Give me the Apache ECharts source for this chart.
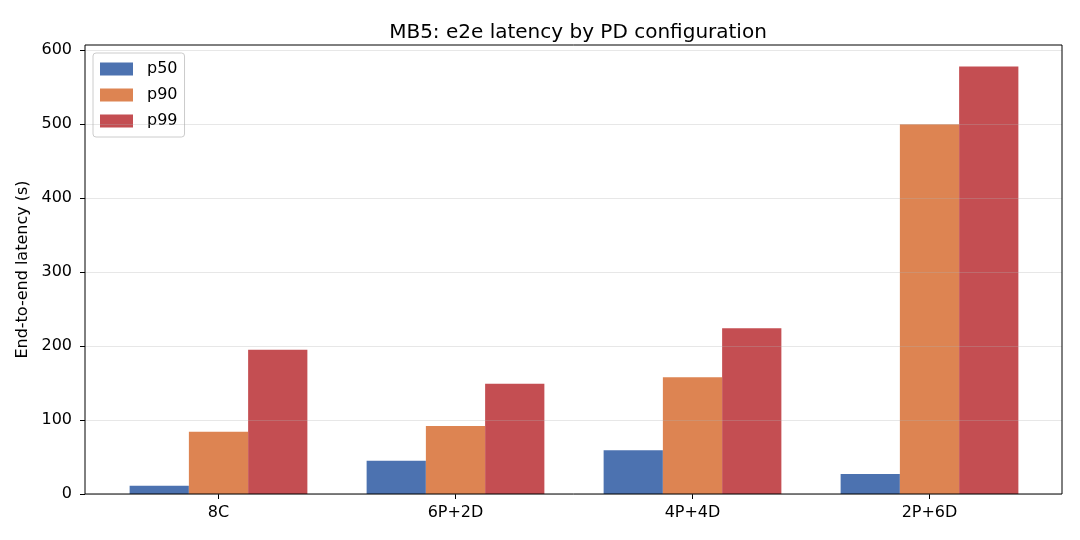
<!DOCTYPE html>
<html>
<head>
<meta charset="utf-8">
<script src="https://cdn.jsdelivr.net/npm/echarts@6/dist/echarts.min.js"></script>
<style>
  html, body { margin: 0; padding: 0; background: #fff; }
  #charts { width: 1080px; height: 540px; }
</style>
</head>
<body>
<div id="charts"></div>
<script>
var categories = ['8C', '6P+2D', '4P+4D', '2P+6D'];
var p50Data = [11, 45, 59, 27];
var p90Data = [84, 92, 158, 500];
var p99Data = [195, 149, 224, 578];
var yTicks = [0, 100, 200, 300, 400, 500, 600];
var yMax = 607;

var font = 'DejaVu Sans';
var myChart = echarts.init(document.getElementById('charts'));

var gridLine = 'rgba(176,176,176,0.3)';

// grid 0 = frame + y axis, grid 1 = bars (category bands narrower than frame, like matplotlib)
var option = {
    animation: false,
    backgroundColor: '#fff',
    title: {
        text: 'MB5: e2e latency by PD configuration',
        left: 573,
        textAlign: 'center',
        top: 18,
        textStyle: { fontFamily: font, fontSize: 20, fontWeight: 'normal', color: '#000' }
    },
    legend: {
        data: ['p50', 'p90', 'p99'],
        orient: 'vertical',
        left: 93,
        top: 53,
        icon: 'rect',
        itemWidth: 33,
        itemHeight: 13,
        itemGap: 10,
        padding: [8, 7, 8, 7],
        backgroundColor: 'rgba(255,255,255,0.8)',
        borderColor: '#cccccc',
        borderWidth: 1,
        borderRadius: 3,
        textStyle: { fontFamily: font, fontSize: 16, color: '#000', padding: [0, 0, 0, 9] }
    },
    grid: [
        { left: 85, right: 18, top: 45, bottom: 46, show: true, borderColor: '#000', borderWidth: 1, backgroundColor: 'transparent', z: 6 },
        { left: 100, right: 32, top: 45, bottom: 46 }
    ],
    xAxis: [
        { type: 'value', gridIndex: 0, show: false, min: 0, max: 1 },
        {
            type: 'category',
            gridIndex: 1,
            data: categories,
            axisLine: { show: false },
            axisTick: { show: true, alignWithLabel: true, length: 5, lineStyle: { color: '#000' } },
            axisLabel: { margin: 11, fontFamily: font, fontSize: 16, color: '#000' },
            splitLine: { show: false }
        }
    ],
    yAxis: [
        {
            type: 'value',
            gridIndex: 0,
            min: 0,
            max: yMax,
            interval: 100,
            z: 5,
            name: 'End-to-end latency (s)',
            nameLocation: 'middle',
            nameGap: 53,
            nameTextStyle: { fontFamily: font, fontSize: 16, color: '#000' },
            axisLine: { show: false },
            axisTick: { show: true, length: 5, customValues: yTicks, lineStyle: { color: '#000' } },
            axisLabel: {
                margin: 13,
                fontFamily: font,
                fontSize: 16,
                color: '#000',
                customValues: yTicks,
                formatter: function(v) { return v % 100 === 0 ? String(v) : ''; }
            },
            splitLine: { show: true, lineStyle: { color: gridLine, width: 1 } }
        },
        { type: 'value', gridIndex: 1, min: 0, max: yMax, show: false, splitLine: { show: false } }
    ],
    series: [
        { name: 'p50', type: 'bar', xAxisIndex: 1, yAxisIndex: 1, data: p50Data, barWidth: '25%', barGap: '0%', itemStyle: { color: '#4C72B0' } },
        { name: 'p90', type: 'bar', xAxisIndex: 1, yAxisIndex: 1, data: p90Data, barWidth: '25%', barGap: '0%', itemStyle: { color: '#DD8452' } },
        { name: 'p99', type: 'bar', xAxisIndex: 1, yAxisIndex: 1, data: p99Data, barWidth: '25%', barGap: '0%', itemStyle: { color: '#C44E52' } }
    ]
};
myChart.setOption(option);
</script>
</body>
</html>
